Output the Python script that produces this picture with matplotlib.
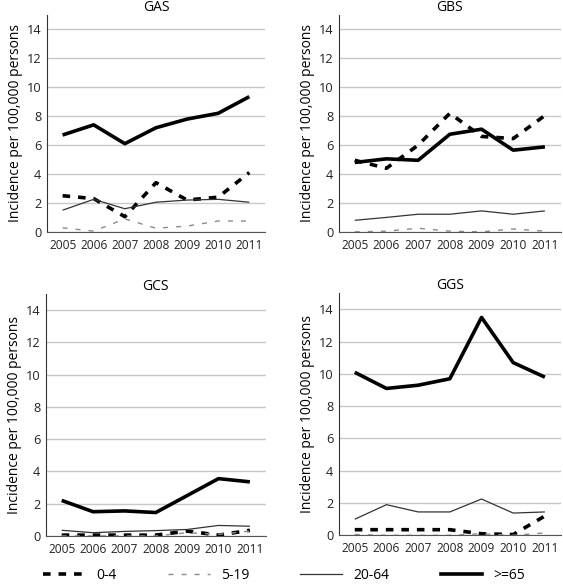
import numpy as np
import matplotlib
matplotlib.use('Agg')
import matplotlib.pyplot as plt
from matplotlib.lines import Line2D

plt.rcParams['font.family'] = ['Open Sans', 'DejaVu Sans']

YEARS = ['2005', '2006', '2007', '2008', '2009', '2010', '2011']
AGE_GROUPS = ['0-4', '5-19', '20-64', '>=65']

# incidence per 100,000, one list per age group
GAS_0_4 = [2.5, 2.3, 1.05, 3.4, 2.2, 2.4, 4.1]
GAS_5_19 = [0.28, 0.05, 0.9, 0.25, 0.4, 0.75, 0.75]
GAS_20_64 = [1.5, 2.25, 1.6, 2.05, 2.2, 2.25, 2.05]
GAS_65 = [6.7, 7.4, 6.1, 7.2, 7.8, 8.2, 9.35]

GBS_0_4 = [4.95, 4.4, 6.0, 8.2, 6.6, 6.45, 8.05]
GBS_5_19 = [0.0, 0.05, 0.25, 0.05, 0.0, 0.2, 0.05]
GBS_20_64 = [0.8, 1.0, 1.22, 1.22, 1.45, 1.22, 1.45]
GBS_65 = [4.8, 5.05, 4.95, 6.75, 7.1, 5.65, 5.88]

GCS_0_4 = [0.05, 0.05, 0.05, 0.05, 0.3, 0.05, 0.35]
GCS_5_19 = [0.0, 0.0, 0.0, 0.0, 0.2, 0.1, 0.3]
GCS_20_64 = [0.35, 0.2, 0.28, 0.33, 0.4, 0.65, 0.6]
GCS_65 = [2.2, 1.5, 1.55, 1.45, 2.5, 3.55, 3.35]

GGS_0_4 = [0.35, 0.35, 0.35, 0.35, 0.1, 0.05, 1.2]
GGS_5_19 = [0.05, 0.0, 0.0, 0.0, 0.1, 0.0, 0.15]
GGS_20_64 = [1.0, 1.9, 1.45, 1.45, 2.25, 1.38, 1.45]
GGS_65 = [10.1, 9.1, 9.3, 9.7, 13.5, 10.7, 9.8]

PANELS = {
    'GAS': [GAS_0_4, GAS_5_19, GAS_20_64, GAS_65],
    'GBS': [GBS_0_4, GBS_5_19, GBS_20_64, GBS_65],
    'GCS': [GCS_0_4, GCS_5_19, GCS_20_64, GCS_65],
    'GGS': [GGS_0_4, GGS_5_19, GGS_20_64, GGS_65],
}

STYLES = [
    dict(color='black', lw=2.6, ls=(0, (2.1, 2.2))),
    dict(color='#8a8a8a', lw=1.0, ls=(0, (3.6, 5.8))),
    dict(color='#333333', lw=0.9, ls='-'),
    dict(color='black', lw=2.6, ls='-'),
]

AX_POS = {
    'GAS': [0.0835, 0.605, 0.387, 0.3695],
    'GBS': [0.602, 0.605, 0.394, 0.3695],
    'GCS': [0.0817, 0.087, 0.39, 0.4125],
    'GGS': [0.602, 0.088, 0.394, 0.4125],
}

fig = plt.figure(figsize=(5.63, 5.87), dpi=100)
x = np.arange(len(YEARS))

for name, series in PANELS.items():
    ax = fig.add_axes(AX_POS[name])
    for vals, st in zip(series, STYLES):
        ax.plot(x, vals, solid_capstyle='butt', dash_capstyle='butt', **st)
    ax.set_xlim(-0.5, len(YEARS) - 0.5)
    ax.set_ylim(0, 15)
    ax.set_yticks(range(0, 15, 2))
    ax.set_xticks(x)
    ax.set_xticklabels(YEARS)
    ax.tick_params(axis='x', length=0, labelsize=8.6, pad=5, colors='#222222')
    ax.tick_params(axis='y', length=0, labelsize=9.2, pad=4, colors='#222222')
    ax.yaxis.grid(True, color='#c8c8c8', lw=1.0)
    ax.set_axisbelow(True)
    for s in ['top', 'right']:
        ax.spines[s].set_visible(False)
    ax.spines['left'].set_color('#333333')
    ax.spines['bottom'].set_color('#555555')
    ax.set_title(name, fontsize=10, pad=2)
    ax.set_ylabel('Incidence per 100,000 persons', fontsize=10, labelpad=3)

handles = [Line2D([0], [0], **st) for st in STYLES]
for h in handles:
    h.set_dash_capstyle('butt')
fig.legend(handles, AGE_GROUPS, loc='lower left', ncol=4,
           bbox_to_anchor=(0.055, -0.015, 0.9, 0.04), mode='expand',
           frameon=False, fontsize=10, handlelength=3.0, handletextpad=0.8)

fig.savefig('out.png', dpi=100)
